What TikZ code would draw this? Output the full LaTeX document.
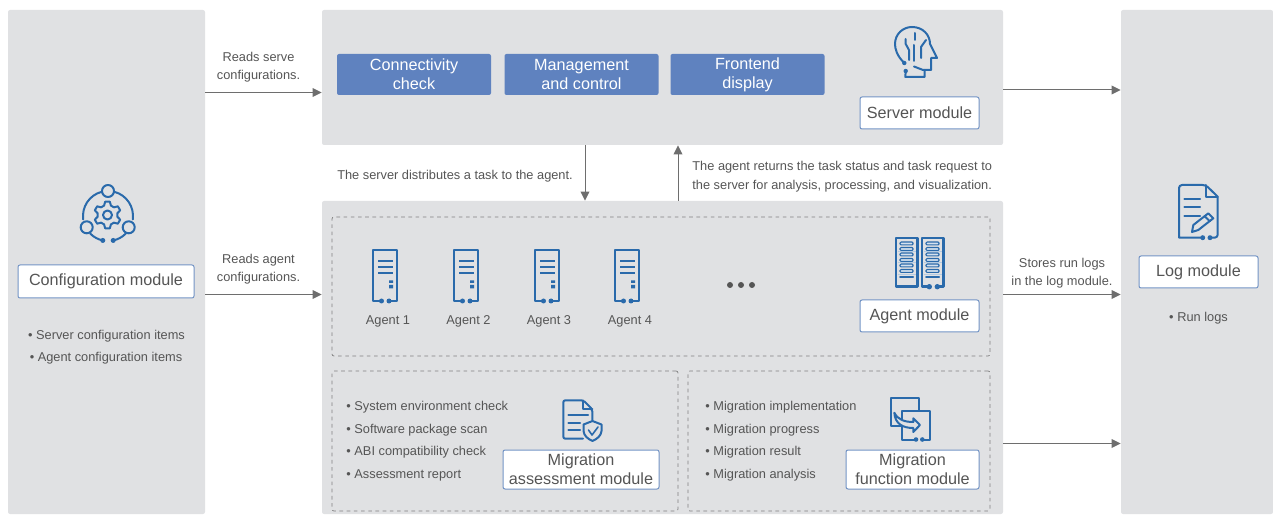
\documentclass[tikz,border=0pt]{standalone}
\usepackage{fontspec}
\setmainfont{Liberation Sans}
\usepackage{xcolor}
\usetikzlibrary{arrows.meta,positioning,calc}
\definecolor{PanelGray}{HTML}{E0E1E3}
\definecolor{IconBlue}{HTML}{2A6AAB}
\definecolor{ButtonBlue}{HTML}{5F82BF}
\definecolor{BorderBlue}{HTML}{7394C5}
\definecolor{TextGray}{HTML}{555555}
\definecolor{DashGray}{HTML}{808080}
\tikzstyle{panel} = [rectangle, rounded corners=1pt, fill=PanelGray, inner sep=0pt]
\tikzstyle{zone} = [rectangle, rounded corners=1pt, draw=DashGray, line width=0.35pt, dash pattern=on 1.8pt off 1.8pt, inner sep=0pt]
\tikzstyle{button} = [rectangle, rounded corners=1pt, fill=ButtonBlue, text=white, minimum width=77pt, minimum height=20.5pt, inner sep=0pt, align=center, font=\fontsize{8.1}{9.5}\selectfont]
\tikzstyle{modulebox} = [rectangle, rounded corners=1pt, draw=BorderBlue, line width=0.5pt, fill=white, text=TextGray, inner sep=0pt, align=center, font=\fontsize{8.1}{9.5}\selectfont]
\tikzstyle{note} = [text=TextGray, inner sep=0pt, align=center, yshift=-0.5pt, font=\fontsize{6.4}{9.2}\selectfont]
\tikzstyle{listing} = [text=TextGray, inner sep=0pt, align=left, anchor=west, yshift=-0.6pt, font=\fontsize{6.4}{11.2}\selectfont]
\tikzstyle{arrow} = [draw=TextGray!85, line width=0.5pt, -{Triangle[length=4.5pt,width=4.4pt]}]
\tikzstyle{icon} = [draw=IconBlue, line width=1pt, line join=round, line cap=round]
\tikzset{
  pics/agentpic/.style={code={
    \draw[icon] (-3.5,-25.5) -- (-12,-25.5) -- (-12,25.5) -- (12,25.5) -- (12,-25.5) -- (4,-25.5);
    \fill[IconBlue] (-3.5,-25.5) circle (2.5) (4,-25.5) circle (2.5);
    \foreach \y in {14.5,8.5,2.5} {\draw[icon,line cap=butt,line width=1.1pt] (-7,\y) -- (8,\y);}
    \fill[IconBlue] (4,-5) rectangle (8,-7.5) (4,-9.5) rectangle (8,-13);
  }},
  pics/rackpic/.style={code={
    \foreach \y in {10.8,-0.2,-11.5} {\draw[draw=IconBlue!35,line width=0.4pt] (-9,\y) -- (9,\y);}
    \foreach \y in {19,13.5,8,2.5,-3,-8.5} {\draw[icon,line width=0.6pt,fill=IconBlue!20,rounded corners=0.5pt] (-6.5,\y-1.4) rectangle (6.5,\y+1.4);}
    \draw[icon] (-6.5,-14.5) -- (6.5,-14.5);
  }}
}

\begin{document}
\begin{tikzpicture}[x=0.5pt,y=0.5pt]
\useasboundingbox (0,0) rectangle (1273,514);

% Panels
\node (config) [panel, minimum width=98.5pt, minimum height=252pt] at (106.5,252) {};
\node (server) [panel, minimum width=340.5pt, minimum height=67.5pt] at (662.5,436.5) {};
\node (agent) [panel, minimum width=340.5pt, minimum height=156.5pt] at (662.5,156.5) {};
\node (log) [panel, minimum width=76pt, minimum height=252pt] at (1197,252) {};

% Dashed zones
\node (agentzone) [zone, minimum width=329pt, minimum height=69.5pt] at (661,227.5) {};
\node (assesszone) [zone, minimum width=173pt, minimum height=70pt] at (505,73) {};
\node (funczone) [zone, minimum width=151pt, minimum height=70pt] at (839,73) {};

% Server tasks
\node (connect) [button] at (414,439.5) {Connectivity\\check};
\node (manage) [button] at (581.5,439.5) {Management\\and control};
\node (frontend) [button] at (747.5,439.5) {Frontend\\display};

% Module names
\node (configname) [modulebox, minimum width=88pt, minimum height=16.5pt] at (106,232.5) {Configuration module};
\node (servername) [modulebox, minimum width=59.5pt, minimum height=16pt] at (919.5,401) {Server module};
\node (agentname) [modulebox, minimum width=59.5pt, minimum height=16pt] at (919.5,198) {Agent module};
\node (logname) [modulebox, minimum width=59.5pt, minimum height=16pt] at (1198.5,242) {Log module};
\node (assessname) [modulebox, minimum width=78pt, minimum height=19.5pt] at (581,44.5) {Migration\\assessment module};
\node (funcname) [modulebox, minimum width=66.5pt, minimum height=19.5pt] at (912.5,44.5) {Migration\\function module};

% Lists
\node (serveritems) [note] at (106.5,179) {• Server configuration items};
\node (agentitems) [note] at (106,156.5) {• Agent configuration items};
\node (runlogs) [note] at (1198.5,197) {• Run logs};
\node (assesslist) [listing] at (346,74) {• System environment check\\• Software package scan\\• ABI compatibility check\\• Assessment report};
\node (funclist) [listing] at (705,74) {• Migration implementation\\• Migration progress\\• Migration result\\• Migration analysis};

% Agents
\foreach \x/\t/\n in {385/388/1,466/468.5/2,547/549/3,627/630/4} {
  \pic at (\x,238.5) {agentpic};
  \node (agent\n) [note] at (\t,194) {Agent \n};
}
\foreach \x in {730,741,752} {\fill[TextGray] (\x,229) circle (3);}

% Configuration icon
\draw[icon] (108,298) ++(75:25) arc[start angle=75,end angle=-8,radius=25];
\draw[icon] (108,298) ++(105:25) arc[start angle=105,end angle=188,radius=25];
\draw[icon] (108,298) ++(225:25) arc[start angle=225,end angle=258,radius=25];
\draw[icon] (108,298) ++(315:25) arc[start angle=315,end angle=282,radius=25];
\draw[icon] (108,323) circle (6) (86.7,286.7) circle (6) (128.7,286.7) circle (6);
\fill[IconBlue] (108,298) ++(258:25) circle (2.5);
\fill[IconBlue] (108,298) ++(282:25) circle (2.5);
\begin{scope}[shift={(107.5,299)}]
\draw[icon] (0,0) circle (4.5);
\draw[icon] (10:10) \foreach \a in {30,90,...,330} {-- (\a-20:10) -- (\a-10:13.5) -- (\a+10:13.5) -- (\a+20:10)} -- cycle;
\end{scope}

% Server icon
\draw[icon] (904.3,451) .. controls (897,458) and (895,465) .. (895,470) .. controls (895,480) and (903,487) .. (912,487) .. controls (923,487) and (930,479) .. (930,470) -- (937,456) -- (931,456) -- (931,444) -- (923,444) -- (914,447.5);
\draw[icon] (924.7,444) -- (924.7,437) -- (905.3,437) -- (905.7,443);
\draw[icon] (914.7,481) -- (914.7,474) (914,469) -- (914,453);
\draw[icon] (905.7,475) -- (905.7,470) -- (909,464) -- (909,454);
\draw[icon] (926,474) -- (921,467) -- (921,456);
\fill[IconBlue] (904.3,451) circle (2.2) (905.7,443) circle (2.2);

% Cluster icon
\pic at (906.5,251.5) {rackpic};
\pic at (932.5,251.5) {rackpic};
\draw[icon,line width=1.2pt] (895.7,227.3) rectangle (917.3,276);
\draw[icon,line width=1.2pt] (929.3,227.3) -- (921.7,227.3) -- (921.7,276) -- (943.3,276) -- (943.3,227.3) -- (937.3,227.3);
\fill[IconBlue] (929.3,227.3) circle (2.7) (937.3,227.3) circle (2.7);

% Assessment icon
\draw[icon,rounded corners=1pt] (583,75.3) -- (563.3,75.3) -- (563.3,113.7) -- (583.3,113.7) -- (592.3,104.7) -- (592.3,94);
\draw[icon] (583.3,113.7) -- (583.3,104.7) -- (592.3,104.7);
\draw[icon] (568.3,98.7) -- (588,98.7) (568.3,91.3) -- (580,91.3) (568.3,83.7) -- (580,83.7);
\draw[icon] (592.5,93) -- (583.5,89.5) -- (583.5,83) .. controls (584,78) and (588,75) .. (592.5,73) .. controls (597,75) and (601,78) .. (601.5,83) -- (601.5,89.5) -- cycle;
\draw[icon,line width=0.8pt] (588.5,84) -- (592,79) -- (598,87);

% Function icon
\draw[icon] (901.7,88) -- (891,88) -- (891,115.7) -- (919,115.7) -- (919,104);
\draw[icon] (916,74.5) -- (902.3,74.5) -- (902.3,103.3) -- (930,103.3) -- (930,74.5) -- (922.3,74.5);
\fill[IconBlue] (916,74.5) circle (2.3) (922.3,74.5) circle (2.3);
\draw[icon,fill=PanelGray] (894.3,101.3) .. controls (898,94) and (905,92) .. (913.3,92) -- (913.3,95.7) -- (920,89) -- (913.3,82) -- (913.3,86) .. controls (903,86) and (895,90) .. cycle;

% Log icon
\draw[icon] (1202.7,276.3) -- (1179,276.3) [rounded corners=1.5pt] -- (1179,329) -- (1205.7,329) [sharp corners] -- (1217.7,317.3) [rounded corners=1.5pt] -- (1217.7,276.3) -- (1210,276.3);
\draw[icon] (1205.7,329) -- (1205.7,317.3) -- (1217.7,317.3);
\draw[icon] (1184.3,315) -- (1200,315) (1184.3,306.7) -- (1200,306.7) (1184.3,298.3) -- (1200,298.3);
\draw[icon] (1192,282) -- (1193.3,289) -- (1208.3,300.7) -- (1213.3,295.7) -- (1198.3,284) -- cycle;
\draw[icon] (1204.5,297.8) -- (1209.8,292.8);
\fill[IconBlue] (1202.7,276.3) circle (2.5) (1210,276.3) circle (2.5);

% Connector labels
\node (readserve) [note] at (258.5,448) {Reads serve\\configurations.};
\node (readagent) [note] at (258.5,246) {Reads agent\\configurations.};
\node (distribute) [note] at (455,339) {The server distributes a task to the agent.};
\node (returns) [note, align=left, anchor=west] at (692,338.5) {The agent returns the task status and task request to\\the server for analysis, processing, and visualization.};
\node (storelogs) [note] at (1062,242) {Stores run logs\\in the log module.};

% Arrow levels
\coordinate (serverlevel) at (0,421.5);
\coordinate (agentlevel) at (0,219.5);
\coordinate (serverlog) at (0,424);
\coordinate (funclog) at (0,70.5);
\coordinate (downline) at (585,0);
\coordinate (upline) at (678,0);

% Arrows
\draw [arrow] (config.east |- serverlevel) -- (server.west |- serverlevel);
\draw [arrow] (config.east |- agentlevel) -- (agent.west |- agentlevel);
\draw [arrow] (server.east |- serverlog) -- (log.west |- serverlog);
\draw [arrow] (agent.east |- agentlevel) -- (log.west |- agentlevel);
\draw [arrow] (agent.east |- funclog) -- (log.west |- funclog);
\draw [arrow] (server.south -| downline) -- (agent.north -| downline);
\draw [arrow] (agent.north -| upline) -- (server.south -| upline);

\end{tikzpicture}
\end{document}
